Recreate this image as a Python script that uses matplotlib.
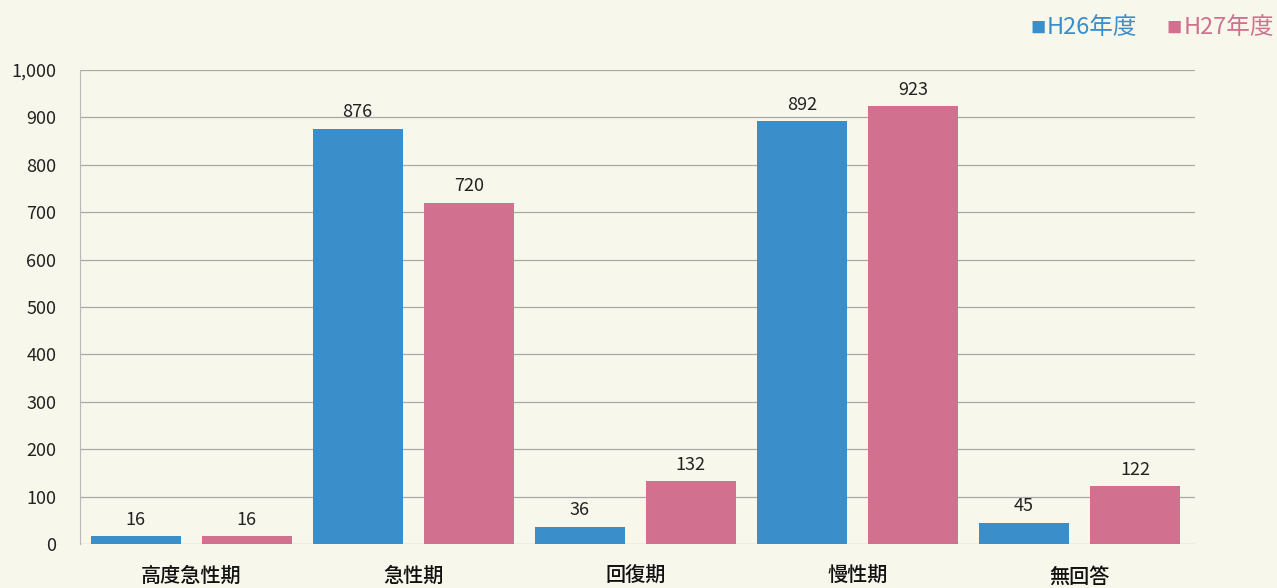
import matplotlib
matplotlib.use("Agg")
import matplotlib.pyplot as plt
import numpy as np

plt.rcParams['font.family'] = ['Noto Sans CJK JP', 'DejaVu Sans']

categories = ['高度急性期', '急性期', '回復期', '慢性期', '無回答']
h26 = [16, 876, 36, 892, 45]
h27 = [16, 720, 132, 923, 122]
series_names = ['H26年度', 'H27年度']
yticks = [0, 100, 200, 300, 400, 500, 600, 700, 800, 900, 1000]

blue = '#3a8fcb'
pink = '#d1708f'
bg = '#f8f7ec'

fig = plt.figure(figsize=(12.77, 5.88), dpi=100, facecolor=bg)
ax = fig.add_axes([80/1277, 1-544/588, (1195-80)/1277, (544-70)/588])
ax.set_facecolor(bg)

x = np.arange(len(categories))
w = 0.405
b1 = ax.bar(x - 0.25, h26, w, color=blue, zorder=3)
b2 = ax.bar(x + 0.25, h27, w, color=pink, zorder=3)

for bars, vals in ((b1, h26), (b2, h27)):
    for r, v in zip(bars, vals):
        ax.text(r.get_x() + r.get_width()/2, v + 16, f'{v:,}', ha='center', va='bottom',
                fontsize=13, color='#222222', zorder=4)

ax.set_xlim(-0.5, 4.52)
ax.set_ylim(0, 1000)
ax.set_yticks(yticks)
ax.set_yticklabels([f'{t:,}' for t in yticks], fontsize=13, color='#222222')
ax.yaxis.grid(True, color='#a8a8a8', linewidth=0.9, zorder=0)
ax.set_axisbelow(True)
ax.tick_params(axis='y', length=0, pad=17)
ax.tick_params(axis='x', length=0, pad=16.5)
ax.set_xticks(x)
ax.set_xticklabels(categories, fontsize=14.5, color='#111111', fontweight='medium')
for s in ['top', 'right', 'bottom']:
    ax.spines[s].set_visible(False)
ax.spines['left'].set_color('#b8b8b8')
ax.spines['left'].set_linewidth(0.8)

# legend
fig.text(1030/1277, 1-28/588, '■', color=blue, fontsize=11, va='center', ha='left')
fig.text(1047/1277, 1-27/588, series_names[0], color=blue, fontsize=17, va='center', ha='left')
fig.text(1166/1277, 1-28/588, '■', color=pink, fontsize=11, va='center', ha='left')
fig.text(1184/1277, 1-27/588, series_names[1], color=pink, fontsize=17, va='center', ha='left')

fig.savefig('out.png', dpi=100, facecolor=bg)
